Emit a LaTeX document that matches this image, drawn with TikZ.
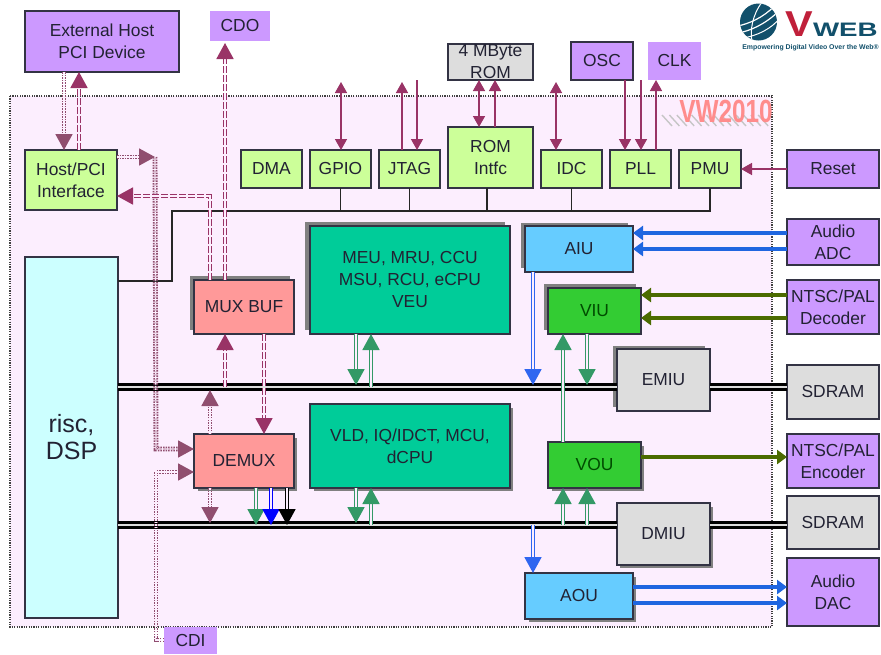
\documentclass[tikz,border=0pt]{standalone}
\usepackage{fontspec}
\setmainfont{Liberation Sans}
\usetikzlibrary{arrows.meta}
\definecolor{pur}{HTML}{CC99FF}
\definecolor{lime}{HTML}{CCFF99}
\definecolor{sal}{HTML}{FF8C8C}
\definecolor{boxsal}{HTML}{FF9999}
\definecolor{teal2}{HTML}{00CC99}
\definecolor{sky}{HTML}{66CCFF}
\definecolor{grn}{HTML}{33CC33}
\definecolor{gry}{HTML}{DDDDDD}
\definecolor{cy}{HTML}{CCFFFF}
\definecolor{plum}{HTML}{993366}
\definecolor{sea}{HTML}{339966}
\definecolor{olv}{HTML}{4B6B00}
\definecolor{blu}{HTML}{2F66F0}
\definecolor{blu2}{HTML}{1F66E0}
\definecolor{edge}{HTML}{333344}
\definecolor{txt}{HTML}{222233}
\definecolor{bgp}{HTML}{FCEEFE}
\definecolor{shd}{HTML}{808080}
\definecolor{logot}{HTML}{12506B}
\definecolor{logor}{HTML}{C0203A}
\tikzset{
 x=1pt,y=-1pt,
 every node/.style={inner sep=0pt,outer sep=0pt,align=center,text=txt,font=\fontsize{17.4}{22}\selectfont},
 bx/.style={draw=edge,line width=1.3pt},
 nb/.style={fill=pur},
 pbox/.style={bx,fill=pur},
 lbox/.style={bx,fill=lime},
 gbox/.style={bx,fill=gry},
 sbox/.style={bx,fill=boxsal},
 tbox/.style={bx,fill=teal2},
 ubox/.style={bx,fill=sky},
 vbox/.style={bx,fill=grn,text=green!30!black},
 plumsol/.style={line width=1.5pt,draw=plum,-{Triangle[length=11pt,width=12pt]}},
 plumbi/.style={plumsol,{Triangle[length=11pt,width=12pt]}-{Triangle[length=11pt,width=12pt]}},
 thick1/.style={line width=3.2pt,-{Triangle[length=10pt,width=14pt]}},
 dbl/.style={double=bgp,double distance=1.3pt,line width=1.8pt,-{Triangle[length=16pt,width=17pt]}},
 pdash/.style={dbl,draw=plum,dash pattern=on 7pt off 2pt},
 pdot/.style={dbl,draw=plum!65!gray,dash pattern=on 1.5pt off 1.1pt},
 sdbl/.style={dbl,draw=sea},
 bdbl/.style={dbl,draw=blu},
 ctrl/.style={line width=1.5pt,draw=black!85},
 bus/.style={line width=7.5pt,draw=black,postaction={draw=gry,line width=2.6pt}},
}
\newcommand{\bxn}[7]{\node[#1,minimum width=#5pt-#3pt,minimum height=#6pt-#4pt] (#2) at ({(#3+#5)/2},{(#4+#6)/2}) {#7};}
\begin{document}
\begin{tikzpicture}
\useasboundingbox (0,0) rectangle (881,654);
\fill[white] (0,0) rectangle (881,654);
\draw[fill=bgp,draw=black!75,line width=1.1pt,dash pattern=on 1.2pt off 1.2pt] (10,96) rectangle (772,627);
% logo
\fill[logot] (758.5,22) circle (18.5);
\begin{scope}
\clip (758.5,22) circle (18.5);
\draw[white,line width=1.2pt] (738,26) .. controls (755,22) and (768,14) .. (778,2);
\draw[white,line width=1.2pt] (738,33) .. controls (755,30) and (770,20) .. (780,10);
\draw[white,line width=1pt] (742,38) .. controls (758,36) and (772,28) .. (780,18);
\draw[white,line width=1pt] (752,42) .. controls (750,30) and (752,16) .. (762,2);
\end{scope}
\node[text=logor,font=\fontsize{36}{36}\selectfont\bfseries,anchor=base] (logov) at (799,36) {\scalebox{1.15}[1]{V}};
\node[text=logot,font=\fontsize{19.5}{20}\selectfont\bfseries,anchor=base west] (logow) at (813,36) {\scalebox{1.42}[1]{WEB}};
\node[text=logot,font=\fontsize{6.9}{8}\selectfont\bfseries] (logos) at (810.5,48) {Empowering Digital Video Over the Web®};
% VW2010 and its shadow
\foreach \i in {0,1,...,13}{
  \draw[gray!45,line width=1.4pt] ({662+\i*7.4},115) -- ({672+\i*7.4},126);
}
\node[text=sal,font=\fontsize{32}{32}\selectfont\bfseries] (vw) at (726,111) {\scalebox{.76}[1]{VW2010}};
% shadows
\fill[shd] (190,276) rectangle (290,330);
\fill[shd] (305,222) rectangle (505,330);
\fill[shd] (521,223) rectangle (628,268);
\fill[shd] (544,284) rectangle (636,330);
\fill[shd] (613,346) rectangle (705,407);
\fill[shd] (198,438) rectangle (297,491);
\fill[shd] (314,408) rectangle (513,491);
\fill[shd] (552,446) rectangle (644,491);
\fill[shd] (620,507) rectangle (713,568);
\fill[shd] (529,577) rectangle (636,622);
% boxes
\bxn{pbox}{ext}{25}{11}{179}{72}{External Host\\PCI Device}
\bxn{nb}{cdo}{210}{11}{270}{41}{CDO}
\bxn{gbox}{rom}{448}{44}{533}{80}{4 MByte\\ROM}
\bxn{pbox}{osc}{571}{42}{633}{80}{OSC}
\bxn{nb}{clk}{648}{42}{701}{80}{CLK}
\bxn{lbox}{host}{25}{150}{117}{210}{Host/PCI\\Interface}
\bxn{lbox}{dma}{241}{150}{302}{188}{DMA}
\bxn{lbox}{gpio}{310}{150}{371}{188}{GPIO}
\bxn{lbox}{jtag}{379}{150}{440}{188}{JTAG}
\bxn{lbox}{romi}{448}{127}{533}{188}{ROM\\Intfc}
\bxn{lbox}{idc}{541}{150}{602}{188}{IDC}
\bxn{lbox}{pll}{610}{150}{671}{188}{PLL}
\bxn{lbox}{pmu}{679}{150}{741}{188}{PMU}
\bxn{pbox}{reset}{787}{150}{879}{188}{Reset}
\bxn{bx,fill=cy,font=\fontsize{25}{27}\selectfont}{risc}{25}{257}{118}{618}{risc,\\DSP}
\bxn{sbox}{mux}{194}{280}{294}{334}{MUX BUF}
\bxn{sbox}{demux}{194}{434}{294}{488}{DEMUX}
\bxn{tbox}{meu}{310}{226}{510}{334}{MEU, MRU, CCU\\MSU, RCU, eCPU\\VEU}
\bxn{tbox}{vld}{310}{404}{510}{488}{VLD, IQ/IDCT, MCU,\\dCPU}
\bxn{ubox}{aiu}{525}{226}{633}{272}{AIU}
\bxn{vbox}{viu}{548}{288}{641}{334}{VIU}
\bxn{vbox}{vou}{548}{442}{641}{488}{VOU}
\bxn{ubox}{aou}{525}{573}{633}{619}{AOU}
\bxn{pbox}{adc}{787}{219}{879}{265}{Audio\\ADC}
\bxn{pbox}{dec}{787}{280}{879}{334}{NTSC/PAL\\Decoder}
\bxn{gbox}{sd1}{787}{365}{879}{419}{SDRAM}
\bxn{pbox}{enc}{787}{434}{879}{488}{NTSC/PAL\\Encoder}
\bxn{gbox}{sd2}{787}{496}{879}{549}{SDRAM}
\bxn{pbox}{dac}{787}{558}{879}{626}{Audio\\DAC}
\bxn{nb}{cdi}{164}{627}{217}{654}{CDI}
\bxn{gbox}{emiu}{617}{349}{710}{411}{EMIU}
\bxn{gbox}{dmiu}{617}{503}{710}{565}{DMIU}
% buses
\coordinate (b1) at (118,387); \coordinate (b2) at (118,525);
\coordinate (b1t) at (118,385); \coordinate (b2t) at (118,523);
\draw[bus] (risc.east |- b1) -- (emiu.west |- b1);
\draw[bus] (emiu.east |- b1) -- (sd1.west |- b1);
\draw[bus] (risc.east |- b2) -- (dmiu.west |- b2);
\draw[bus] (dmiu.east |- b2) -- (sd2.west |- b2);
% control bus
\coordinate (tb) at (172,211);
\draw[ctrl] (pmu.south) |- (tb) |- (risc.east |- 0,281);
\draw[ctrl] (gpio.south) -- (gpio.south |- tb);
\draw[ctrl] (jtag.south) -- (jtag.south |- tb);
\draw[ctrl] (487,0 |- romi.south) -- (487,0 |- tb);
\draw[ctrl] (idc.south) -- (idc.south |- tb);
% host links
\draw[pdot] (64,0 |- ext.south) -- (64,0 |- host.north);
\draw[pdash] (79,0 |- host.north) -- (79,0 |- ext.south);
\coordinate (hc) at (155,157);
\coordinate (cc) at (156,640);
\draw[pdot] (host.east |- hc) -- (hc);
\draw[pdot] (hc) -- (156,449) -- (demux.west |- 0,449);
\draw[pdot] (cdi.west |- cc) -- (cc) -- (156,472) -- (demux.west |- 0,472);
\draw[pdash] (210,0 |- mux.north) -- (210,196) -- (host.east |- 0,196);
\draw[pdash] (225,0 |- mux.north) -- (225,43);
\draw[pdash] (225,0 |- b1) -- (225,0 |- mux.south);
\draw[pdash] (264,0 |- mux.south) -- (264,0 |- demux.north);
\draw[pdot] (210,0 |- demux.north) -- (210,390);
\draw[pdot] (210,0 |- demux.south) -- (210,0 |- b2t);
\draw[sdbl] (256,0 |- demux.south) -- (256,0 |- b2);
\draw[dbl,draw=blue] (271,0 |- demux.south) -- (271,0 |- b2);
\draw[dbl,draw=black] (287,0 |- demux.south) -- (287,0 |- b2);
% core links
\draw[sdbl] (356,0 |- meu.south) -- (356,0 |- b1t);
\draw[sdbl] (371,0 |- b1) -- (371,0 |- meu.south);
\draw[sdbl] (356,0 |- vld.south) -- (356,0 |- b2t);
\draw[sdbl] (371,0 |- b2) -- (371,0 |- vld.south);
\draw[bdbl] (533,0 |- aiu.south) -- (533,0 |- b1t);
\draw[bdbl] (533,0 |- b2) -- (533,0 |- aou.north);
\draw[sdbl] (563,0 |- vou.north) -- (563,0 |- viu.south);
\draw[sdbl] (587,0 |- viu.south) -- (587,0 |- b1t);
\draw[sdbl] (563,0 |- b2) -- (563,0 |- vou.south);
\draw[sdbl] (587,0 |- b2) -- (587,0 |- vou.south);
% peripherals
\draw[thick1,draw=blu2] (adc.west |- 0,233) -- (aiu.east |- 0,233);
\draw[thick1,draw=blu2] (adc.west |- 0,249) -- (aiu.east |- 0,249);
\draw[thick1,draw=olv] (dec.west |- 0,295) -- (viu.east |- 0,295);
\draw[thick1,draw=olv] (dec.west |- 0,318) -- (viu.east |- 0,318);
\draw[thick1,draw=olv] (vou.east |- 0,457) -- (enc.west |- 0,457);
\draw[thick1,draw=blu2] (aou.east |- 0,587) -- (dac.west |- 0,587);
\draw[thick1,draw=blu2] (aou.east |- 0,603) -- (dac.west |- 0,603);
% top signals
\coordinate (gp) at (341,82);
\coordinate (j1) at (402,82);
\coordinate (j2) at (417,80);
\coordinate (id) at (556,82);
\coordinate (pl) at (641,80);
\draw[plumbi] (gp) -- (gp |- gpio.north);
\draw[plumsol] (j1 |- jtag.north) -- (j1);
\draw[plumsol] (j2) -- (j2 |- jtag.north);
\draw[plumbi] (479,0 |- rom.south) -- (479,0 |- romi.north);
\draw[plumsol] (495,0 |- romi.north) -- (495,0 |- rom.south);
\draw[plumbi] (id) -- (id |- idc.north);
\draw[plumsol] (625,0 |- osc.south) -- (625,0 |- pll.north);
\draw[plumsol] (pl) -- (pl |- pll.north);
\draw[plumsol] (656,0 |- pll.north) -- (656,0 |- clk.south);
\draw[plumsol] (reset.west) -- (pmu.east |- reset.west);
\end{tikzpicture}
\end{document}
